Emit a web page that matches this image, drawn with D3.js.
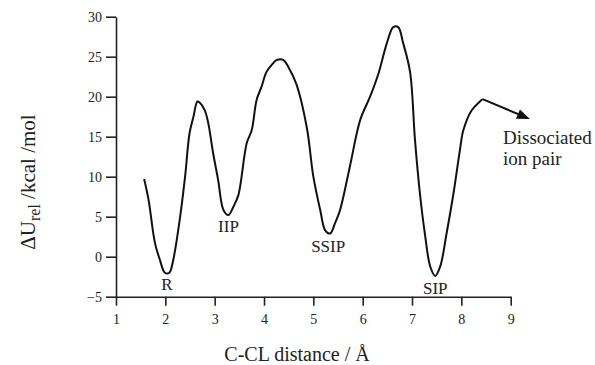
<!DOCTYPE html>
<html><head><meta charset="utf-8">
<script src="https://cdn.jsdelivr.net/npm/d3@7"></script>
<style>body{margin:0;background:#fff}svg{display:block}</style>
</head><body>
<svg id="c" width="595" height="365"></svg>
<script>
const distance = [1.57,1.66,1.79,1.89,1.99,2.08,2.16,2.30,2.40,2.49,2.57,2.65,2.70,2.80,2.87,2.97,3.07,3.18,3.28,3.38,3.48,3.65,3.75,3.85,3.95,4.05,4.16,4.26,4.39,4.49,4.66,4.87,5.00,5.14,5.24,5.34,5.44,5.54,5.74,5.95,6.15,6.32,6.49,6.62,6.72,6.82,6.96,7.06,7.16,7.26,7.37,7.47,7.57,7.70,7.84,7.97,8.04,8.21,8.43];
const energy   = [9.7,7.1,1.7,-0.4,-2.0,-2.0,-0.4,5.0,10.0,15.4,17.5,19.4,19.25,18.3,16.7,12.9,9.6,5.8,5.2,6.25,7.7,14.2,15.8,19.6,21.25,23.1,24.0,24.6,24.6,23.75,21.5,16.05,10.0,5.8,3.3,2.9,4.2,5.8,11.25,17.1,20.0,22.9,26.7,28.7,28.7,26.7,23.1,14.6,7.9,2.9,-1.25,-2.4,-1.25,2.9,7.9,13.3,15.8,18.3,19.7];
const xTicks = [1,2,3,4,5,6,7,8,9];
const yTicks = [-5,0,5,10,15,20,25,30];
const stateLabels = ["R","IIP","SSIP","SIP"];
const stateX = [2.03,3.28,5.30,7.47];
const stateY = [-4.2,3.1,0.6,-4.7];
const arrowFrom = [8.43,19.7];
const arrowTo = [9.39,17.2];
const noteLines = ["Dissociated","ion pair"];

const svg = d3.select("#c");
const F = "'Liberation Serif', 'DejaVu Serif', serif";
const x = d3.scaleLinear().domain([1,9]).range([116,510.7]);
const y = d3.scaleLinear().domain([-5,30]).range([296.7,16.7]);

const xa = svg.append("g").attr("transform","translate(0,296.7)")
  .call(d3.axisBottom(x).tickValues(xTicks).tickSize(9).tickPadding(8).tickSizeOuter(0));
const ya = svg.append("g").attr("transform","translate(116,0)")
  .call(d3.axisLeft(y).tickValues(yTicks).tickSize(10).tickPadding(4).tickSizeOuter(0));
[xa,ya].forEach(g=>{
  g.selectAll("path,line").attr("stroke","#222").attr("stroke-width",1.6);
  g.selectAll("text").attr("font-family",F).attr("font-size",14).attr("fill","#222");
});

const line = d3.line().x((d,i)=>x(distance[i])).y((d,i)=>y(energy[i])).curve(d3.curveCatmullRom.alpha(0.5));
svg.append("path").attr("d",line(distance)).attr("fill","none").attr("stroke","#111").attr("stroke-width",2);

svg.selectAll("text.st").data(stateLabels).join("text").attr("class","st")
  .attr("x",(d,i)=>x(stateX[i])).attr("y",(d,i)=>y(stateY[i]))
  .attr("text-anchor","middle").attr("font-family",F).attr("font-size",17).attr("fill","#222").text(d=>d);

// arrow
const x0=x(arrowFrom[0]), y0=y(arrowFrom[1]), x1=x(arrowTo[0]), y1=y(arrowTo[1]);
svg.append("line").attr("x1",x0).attr("y1",y0).attr("x2",x1-4).attr("y2",y1-1.7).attr("stroke","#111").attr("stroke-width",2);
const ang=Math.atan2(y1-y0,x1-x0), L=13, W=5;
const bx=x1-L*Math.cos(ang), by=y1-L*Math.sin(ang);
svg.append("polygon").attr("points",[[x1,y1],[bx+W*Math.sin(ang),by-W*Math.cos(ang)],[bx-W*Math.sin(ang),by+W*Math.cos(ang)]].map(p=>p.join(",")).join(" ")).attr("fill","#111");

svg.selectAll("text.note").data(noteLines).join("text").attr("class","note")
  .attr("x",503).attr("y",(d,i)=>144+i*21).attr("font-family",F).attr("font-size",19).attr("fill","#222").text(d=>d);

svg.append("text").attr("x",297).attr("y",361).attr("text-anchor","middle")
  .attr("font-family",F).attr("font-size",20).attr("fill","#222").text("C-CL distance / Å");

const yt = svg.append("text").attr("transform","translate(35,182) rotate(-90)").attr("text-anchor","middle")
  .attr("font-family",F).attr("font-size",21).attr("fill","#222");
yt.append("tspan").text("ΔU");
yt.append("tspan").attr("font-size",16).attr("dy",5).text("rel");
yt.append("tspan").attr("dy",-5).text(" /kcal /mol");
</script>
</body></html>
